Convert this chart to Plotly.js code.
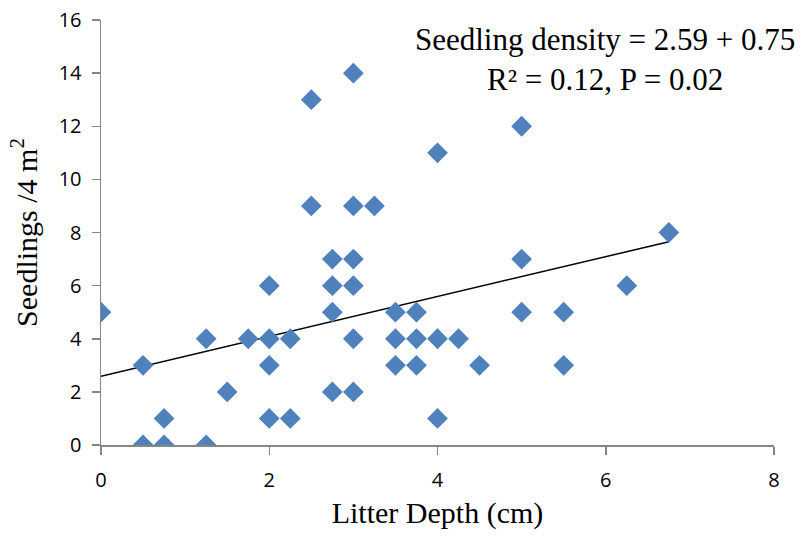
<!DOCTYPE html>
<html>
<head>
<meta charset="utf-8">
<script src="https://cdn.plot.ly/plotly-3.0.1.min.js"></script>
<style>html,body{margin:0;padding:0;background:#fff;}#chart{width:804px;height:539px;}</style>
</head>
<body>
<div id="chart"></div>
<script>
const litterDepth = [0, 0.5, 0.5, 0.75, 0.75, 1.25, 1.25, 1.5, 1.75, 2, 2, 2, 2, 2.25, 2.25, 2.5, 2.5, 2.75, 2.75, 2.75, 2.75, 3, 3, 3, 3, 3, 3, 3.25, 3.5, 3.5, 3.5, 3.75, 3.75, 3.75, 4, 4, 4, 4.25, 4.5, 5, 5, 5, 5.5, 5.5, 6.25, 6.75];
const seedlings   = [5, 3, 0, 1, 0, 4, 0, 2, 4, 6, 4, 3, 1, 4, 1, 13, 9, 7, 6, 5, 2, 14, 9, 7, 6, 4, 2, 9, 5, 4, 3, 5, 4, 3, 11, 4, 1, 4, 3, 12, 7, 5, 5, 3, 6, 8];
const intercept = 2.59;
const slope = 0.75;
const fitX = [0, 6.75];
const fitY = fitX.map(x => intercept + slope * x);
const xTicks = [0, 2, 4, 6, 8];
const yTicks = [0, 2, 4, 6, 8, 10, 12, 14, 16];

const traces = [
  {x: fitX, y: fitY, type: 'scatter', mode: 'lines', line: {color: '#000', width: 1.5}, hoverinfo: 'skip'},
  {x: litterDepth, y: seedlings, type: 'scatter', mode: 'markers',
   marker: {symbol: 'diamond', size: 16, color: '#4F81BD'}}
];
const tickFont = {family: 'Open Sans', size: 20, color: '#000'};
const titleFont = {family: 'Liberation Serif', size: 30, color: '#000'};
const layout = {
  width: 804, height: 539,
  margin: {l: 101, r: 30, t: 20, b: 94},
  paper_bgcolor: '#fff', plot_bgcolor: '#fff',
  showlegend: false,
  xaxis: {
    range: [0, 8], tickvals: xTicks, tickmode: 'array',
    showgrid: false, zeroline: false, showline: true, linecolor: '#868686', linewidth: 1.5,
    ticks: 'outside', ticklen: 8, tickcolor: '#868686', tickwidth: 1.5,
    tickfont: tickFont, ticklabelstandoff: 8,
    title: {text: 'Litter Depth (cm)', font: titleFont, standoff: 10}
  },
  yaxis: {
    range: [0, 16], tickvals: yTicks, tickmode: 'array',
    showgrid: false, zeroline: false, showline: true, linecolor: '#868686', linewidth: 1.5,
    ticks: 'outside', ticklen: 8, tickcolor: '#868686', tickwidth: 1.5,
    tickfont: tickFont, ticklabelstandoff: 6,
    title: {text: 'Seedlings /4 m<sup>2</sup>', font: titleFont, standoff: 12}
  },
  annotations: [{
    xref: 'paper', yref: 'paper', x: 0.749, y: 1.0, xanchor: 'center', yanchor: 'top',
    text: 'Seedling density = 2.59 + 0.75<br>R² = 0.12, P = 0.02', showarrow: false,
    font: {family: 'Liberation Serif', size: 31, color: '#000'}, align: 'center'
  }]
};
Plotly.newPlot('chart', traces, layout, {displayModeBar: false, staticPlot: true});
</script>
</body>
</html>
